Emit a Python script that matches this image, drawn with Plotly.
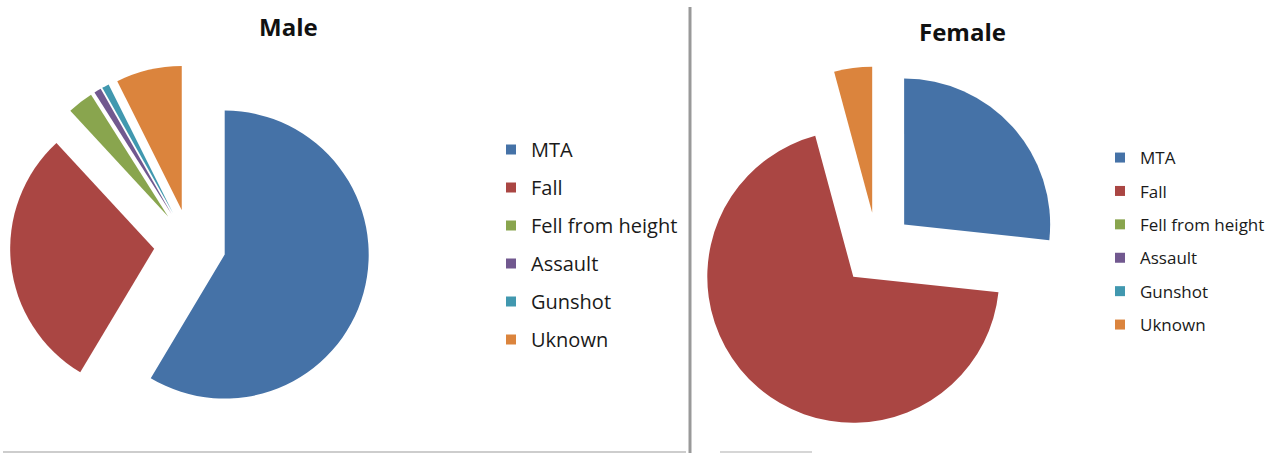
import plotly.graph_objects as go

# Injury mechanism shares (%) by sex
categories = ["MTA", "Fall", "Fell from height", "Assault", "Gunshot", "Uknown"]
male_values = [58.7, 29.6, 2.9, 0.8, 0.8, 7.4]
female_values = [26.7, 69.1, 0, 0, 0, 4.2]
colors = ["#4572A7", "#AA4643", "#89A54E", "#71588F", "#4198AF", "#DB843D"]

W, H = 1276, 453
FONT = "Open Sans"


def px_x(v):
    return v / W


def px_y(v):
    # pixel from top -> paper fraction from bottom
    return 1 - v / H


fig = go.Figure()

# Male pie: centre (190, 245) px, box 360 px
fig.add_trace(go.Pie(
    labels=categories, values=male_values, sort=False, direction="clockwise",
    rotation=0, pull=0.25, textinfo="none", showlegend=False,
    marker=dict(colors=colors, line=dict(width=0)),
    domain=dict(x=[px_x(10), px_x(370)], y=[px_y(425), px_y(65)]),
))

# Female pie: centre (877, 249) px, box 365 px
fig.add_trace(go.Pie(
    labels=categories, values=female_values, sort=False, direction="clockwise",
    rotation=0, pull=0.25, textinfo="none", showlegend=False,
    marker=dict(colors=colors, line=dict(width=0)),
    domain=dict(x=[px_x(694.5), px_x(1059.5)], y=[px_y(431.5), px_y(66.5)]),
))

# Legend entries (one group per category so rows can be spaced apart)
for legend_name, prefix in (("legend", "m"), ("legend2", "f")):
    for i, (cat, col) in enumerate(zip(categories, colors)):
        fig.add_trace(go.Scatter(
            x=[None], y=[None], mode="markers", name=cat,
            legend=legend_name, legendgroup=f"{prefix}{i}",
            marker=dict(symbol="square", size=10, color=col),
            hoverinfo="skip",
        ))

fig.update_layout(
    width=W, height=H,
    margin=dict(l=0, r=0, t=0, b=0),
    paper_bgcolor="white", plot_bgcolor="white",
    xaxis=dict(visible=False), yaxis=dict(visible=False),
    font=dict(family=FONT, color="#1a1a1a"),
    legend=dict(
        x=px_x(491), y=px_y(130), xanchor="left", yanchor="top",
        font=dict(size=20, family=FONT, color="#1a1a1a"),
        tracegroupgap=9, itemwidth=30, bgcolor="rgba(0,0,0,0)",
    ),
    legend2=dict(
        x=px_x(1100), y=px_y(140), xanchor="left", yanchor="top",
        font=dict(size=17, family=FONT, color="#1a1a1a"),
        tracegroupgap=8.3, itemwidth=30, bgcolor="rgba(0,0,0,0)",
    ),
    annotations=[
        dict(text="<b>Male</b>", x=px_x(288), y=px_y(27), xref="paper", yref="paper",
             xanchor="center", yanchor="middle", showarrow=False,
             font=dict(size=24, family=FONT, color="#111111")),
        dict(text="<b>Female</b>", x=px_x(962), y=px_y(31), xref="paper", yref="paper",
             xanchor="center", yanchor="middle", showarrow=False,
             font=dict(size=24, family=FONT, color="#111111")),
    ],
    shapes=[
        # panel divider
        dict(type="line", xref="paper", yref="paper",
             x0=px_x(690), x1=px_x(690), y0=0, y1=px_y(7),
             line=dict(color="#999999", width=3)),
        # bottom borders
        dict(type="line", xref="paper", yref="paper",
             x0=px_x(3), x1=px_x(686), y0=px_y(452), y1=px_y(452),
             line=dict(color="#bdbdbd", width=1.5)),
        dict(type="line", xref="paper", yref="paper",
             x0=px_x(720), x1=px_x(812), y0=px_y(452), y1=px_y(452),
             line=dict(color="#c8c8c8", width=1.5)),
    ],
)

fig.write_html("out.html")
